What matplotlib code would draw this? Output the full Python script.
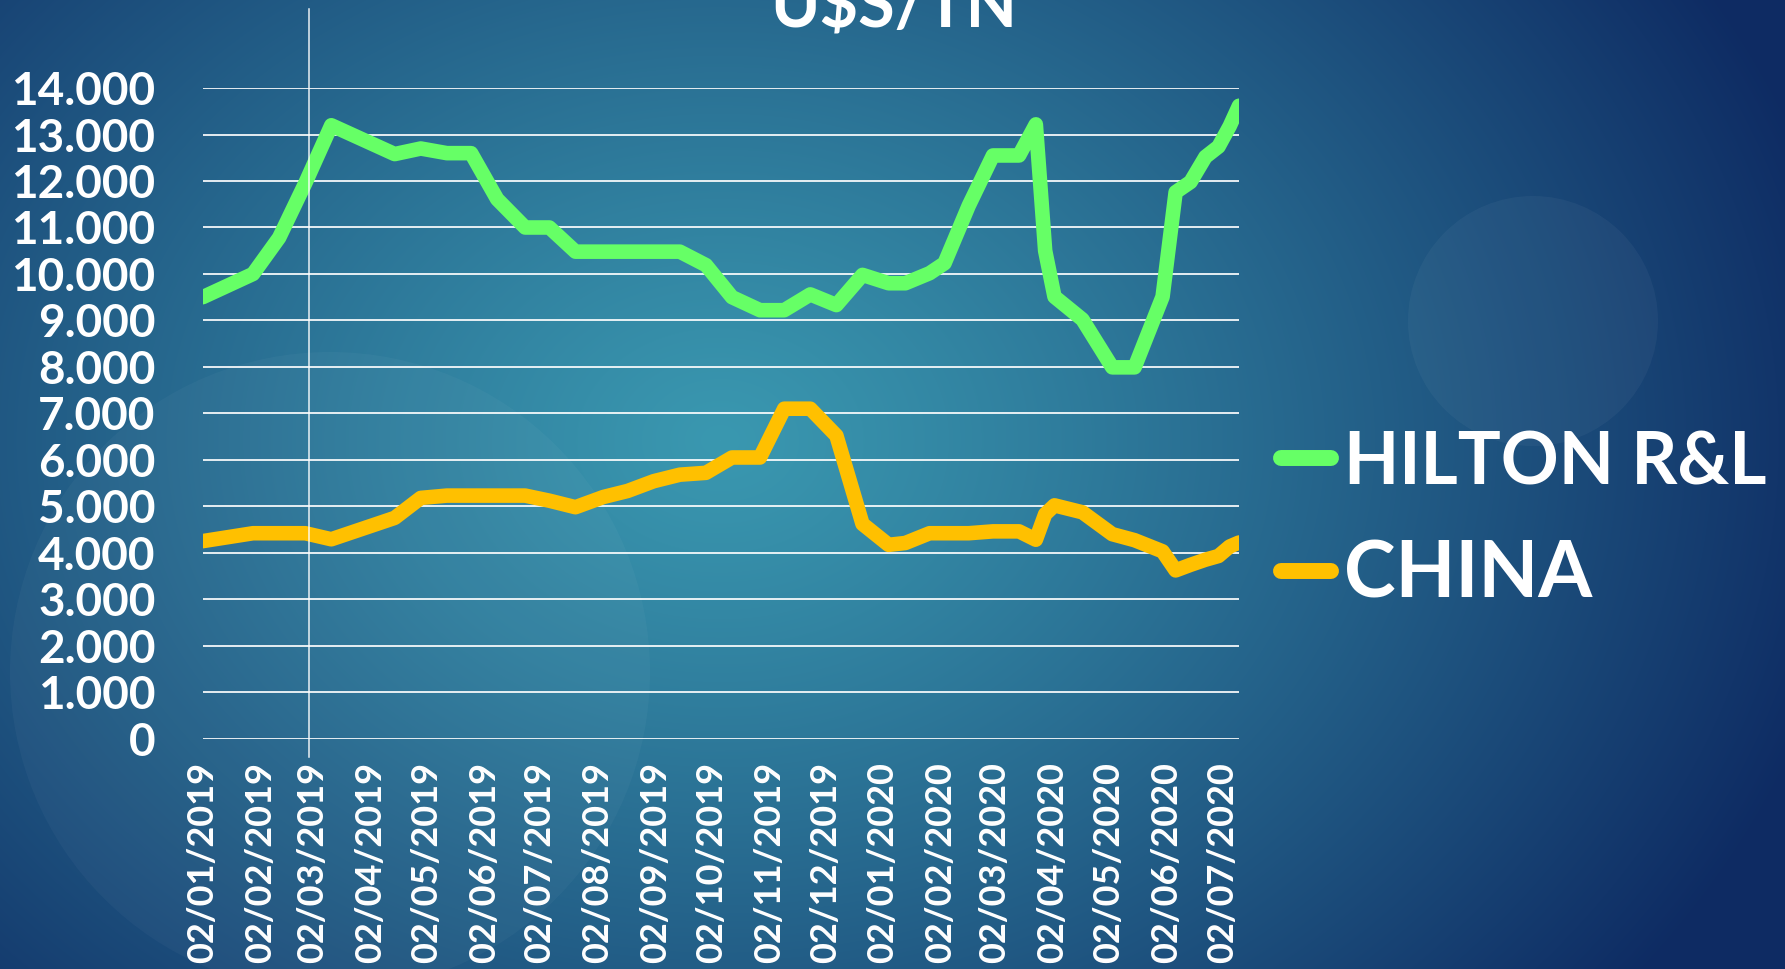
import numpy as np
import matplotlib
matplotlib.use("Agg")
import matplotlib.pyplot as plt
import pandas as pd
from matplotlib.lines import Line2D
from matplotlib.patches import Circle

# ---------------- data ----------------
dates = [
    "2019-01-02", "2019-01-29", "2019-02-12", "2019-02-26", "2019-03-12",
    "2019-04-15", "2019-04-29", "2019-05-13", "2019-05-26", "2019-06-09",
    "2019-06-24", "2019-07-07", "2019-07-21", "2019-08-05", "2019-08-18",
    "2019-09-01", "2019-09-15", "2019-09-29", "2019-10-13", "2019-10-28",
    "2019-11-10", "2019-11-24", "2019-12-08", "2019-12-22", "2020-01-05",
    "2020-01-14", "2020-01-27", "2020-02-04", "2020-02-17", "2020-03-01",
    "2020-03-15", "2020-03-24", "2020-03-29", "2020-04-03", "2020-04-18",
    "2020-05-04", "2020-05-16", "2020-05-31", "2020-06-07", "2020-06-15",
    "2020-06-23", "2020-06-30", "2020-07-06", "2020-07-11",
]
hilton = [
    9500, 10000, 10780, 11950, 13200,
    12580, 12700, 12600, 12600, 11610,
    11000, 11000, 10480, 10480, 10480,
    10480, 10480, 10190, 9500, 9220,
    9220, 9560, 9330, 9980, 9800,
    9800, 10016, 10230, 11470, 12550,
    12550, 13220, 10500, 9510, 9020,
    7990, 7990, 9510, 11760, 11980,
    12520, 12740, 13180, 13620,
]
china = [
    4250, 4420, 4420, 4420, 4290,
    4750, 5180, 5230, 5230, 5230,
    5230, 5120, 4980, 5200, 5330,
    5540, 5680, 5720, 6050, 6050,
    7100, 7100, 6520, 4620, 4170,
    4210, 4420, 4420, 4420, 4460,
    4460, 4280, 4830, 5020, 4870,
    4400, 4270, 4030, 3620, 3740,
    3850, 3930, 4134, 4220,
]
series_names = ["HILTON R&L", "CHINA"]
series_colors = ["#66FF66", "#FFC000"]
title = "U$S/TN"

tick_dates = [
    "2019-01-02", "2019-02-02", "2019-03-02", "2019-04-02", "2019-05-02",
    "2019-06-02", "2019-07-02", "2019-08-02", "2019-09-02", "2019-10-02",
    "2019-11-02", "2019-12-02", "2020-01-02", "2020-02-02", "2020-03-02",
    "2020-04-02", "2020-05-02", "2020-06-02", "2020-07-02",
]
tick_labels = [
    "02/01/2019", "02/02/2019", "02/03/2019", "02/04/2019", "02/05/2019",
    "02/06/2019", "02/07/2019", "02/08/2019", "02/09/2019", "02/10/2019",
    "02/11/2019", "02/12/2019", "02/01/2020", "02/02/2020", "02/03/2020",
    "02/04/2020", "02/05/2020", "02/06/2020", "02/07/2020",
]
yticks = [0, 1000, 2000, 3000, 4000, 5000, 6000, 7000,
          8000, 9000, 10000, 11000, 12000, 13000, 14000]
ytick_labels = ["0", "1.000", "2.000", "3.000", "4.000", "5.000", "6.000",
                "7.000", "8.000", "9.000", "10.000", "11.000", "12.000",
                "13.000", "14.000"]

FONT = "Lato"

# ---------------- figure ----------------
W, H = 1785, 969
fig = plt.figure(figsize=(W / 100, H / 100), dpi=100)

# background gradient
bg = fig.add_axes([0, 0, 1, 1])
bg.axis("off")
yy, xx = np.mgrid[0:H, 0:W]
cx, cy = 720, 440
r = np.sqrt(((xx - cx) / 1150.0) ** 2 + ((yy - cy) / 900.0) ** 2)
r = np.clip(r, 0, 1)
c0 = np.array([0x3A, 0x98, 0xB0]) / 255.0
c1 = np.array([0x0E, 0x2B, 0x63]) / 255.0
img = c0 + (c1 - c0) * (r[..., None] ** 1.15)
bg.imshow(img, extent=[0, W, H, 0], aspect="auto", interpolation="bilinear")
bg.add_patch(Circle((330, 672), 320, color="white", alpha=0.03, lw=0))
bg.add_patch(Circle((1533, 321), 125, color="white", alpha=0.04, lw=0))
bg.set_xlim(0, W)
bg.set_ylim(H, 0)

# main axes
left, right, top, bottom = 202.7, 1239.0, 88.1, 738.6
ax = fig.add_axes([left / W, 1 - bottom / H, (right - left) / W, (bottom - top) / H])
ax.patch.set_alpha(0)
x = pd.to_datetime(dates)
for vals, name, col in zip([hilton, china], series_names, series_colors):
    ax.plot(x, vals, color=col, lw=10.5, solid_joinstyle="round",
            solid_capstyle="round", label=name, zorder=3)

ax.set_xlim(x[0], x[-1])
ax.set_ylim(0, 14000)
ax.set_yticks(yticks)
ax.set_yticklabels(ytick_labels)
ax.set_xticks(pd.to_datetime(tick_dates))
ax.set_xticklabels(tick_labels, rotation=90)
ax.set_axisbelow(True)
ax.grid(axis="y", color="white", lw=1.3, alpha=0.95)
ax.grid(axis="x", visible=False)
for s in ax.spines.values():
    s.set_visible(False)
ax.tick_params(axis="y", length=0, pad=34, labelsize=33, labelcolor="white")
ax.tick_params(axis="x", length=0, pad=17, labelsize=26, labelcolor="white")
for t in ax.get_yticklabels() + ax.get_xticklabels():
    t.set_fontfamily(FONT)
    t.set_fontweight("bold")

# stray vertical line on the slide
fig.add_artist(Line2D([308.5 / W, 308.5 / W], [1 - 9 / H, 1 - 757 / H],
                      color="white", lw=1.1, alpha=0.9))

# title (partially cut at top, as in the reference)
fig.text(894 / W, 1 - 27 / H, title, ha="center", va="baseline", color="white",
         fontsize=48, fontweight="bold", family=FONT, parse_math=False)

# legend (manual)
leg_y = [458, 571]
leg_base = [485, 597]
leg_max_w = [423, 251]  # available text widths in pixels
renderer = fig.canvas.get_renderer()
for name, col, ly, lb, mw in zip(series_names, series_colors, leg_y, leg_base, leg_max_w):
    fig.add_artist(Line2D([1281 / W, 1331 / W], [1 - ly / H, 1 - ly / H],
                          color=col, lw=11.5, solid_capstyle="round"))
    t = fig.text(1344 / W, 1 - lb / H, name, ha="left", va="baseline", color="white",
                 fontsize=56, fontweight="bold", family=FONT)
    w = t.get_window_extent(renderer=renderer).width
    if w > mw:
        t.set_fontsize(56 * mw / w)

fig.savefig("out.png", dpi=100)
